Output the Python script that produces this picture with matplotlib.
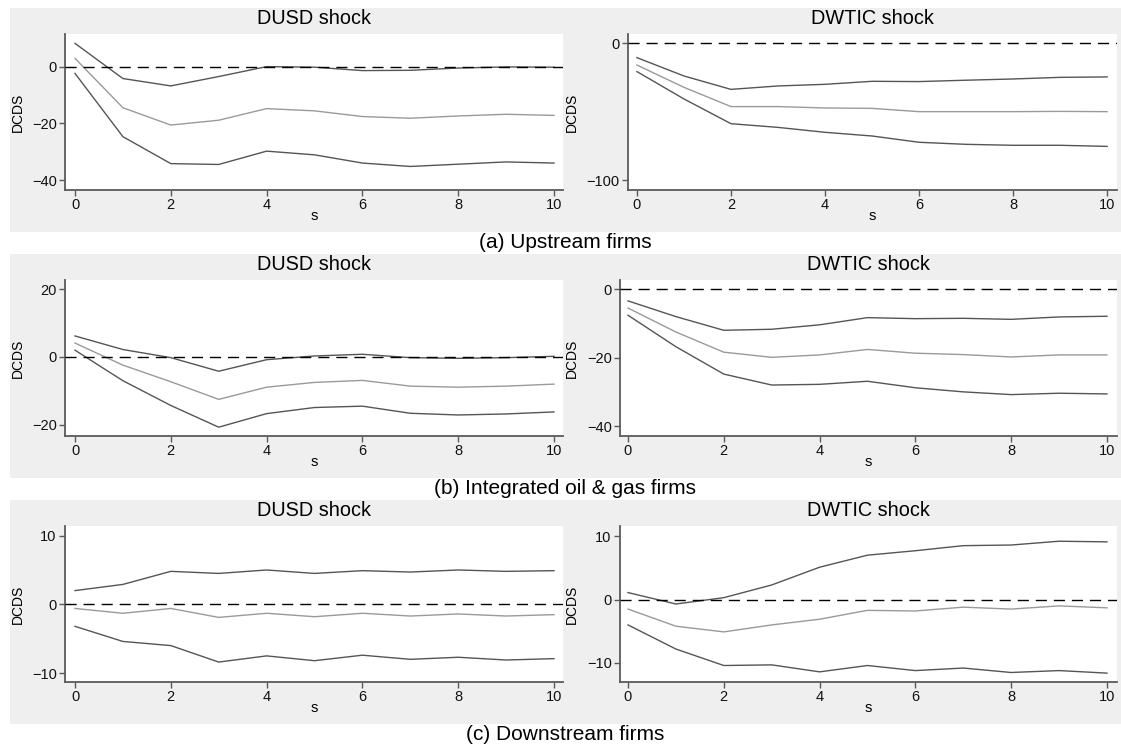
import matplotlib
matplotlib.use("Agg")
import matplotlib.pyplot as plt
from matplotlib.patches import Rectangle

plt.rcParams['font.family'] = ['Liberation Sans', 'DejaVu Sans']

W, H = 1121, 749

steps = list(range(11))

# Row (a) Upstream firms
up_usd_hi = [8.2, -4.2, -6.8, -3.5, 0.0, -0.2, -1.4, -1.3, -0.5, -0.1, -0.2]
up_usd_mid = [2.9, -14.5, -20.6, -18.9, -14.8, -15.6, -17.6, -18.2, -17.4, -16.8, -17.2]
up_usd_lo = [-2.4, -24.7, -34.2, -34.5, -29.8, -31.1, -34.0, -35.2, -34.4, -33.6, -34.0]
up_wti_hi = [-10.5, -23.9, -33.7, -31.2, -30.0, -27.8, -28.0, -27.0, -26.1, -24.9, -24.6]
up_wti_mid = [-15.9, -32.2, -46.3, -46.3, -47.3, -47.6, -50.0, -50.0, -50.0, -49.8, -50.0]
up_wti_lo = [-20.7, -40.7, -58.8, -61.5, -65.1, -67.8, -72.4, -73.9, -74.6, -74.6, -75.4]

# Row (b) Integrated oil & gas firms
int_usd_hi = [6.2, 2.2, -0.2, -4.2, -0.8, 0.3, 0.8, -0.2, -0.4, -0.2, 0.2]
int_usd_mid = [4.1, -2.4, -7.3, -12.5, -8.9, -7.5, -6.9, -8.6, -8.9, -8.6, -8.0]
int_usd_lo = [2.0, -7.0, -14.3, -20.7, -16.7, -14.9, -14.5, -16.6, -17.1, -16.8, -16.2]
int_wti_hi = [-3.4, -8.0, -12.0, -11.7, -10.4, -8.3, -8.6, -8.5, -8.8, -8.1, -7.9]
int_wti_mid = [-5.5, -12.5, -18.4, -19.9, -19.2, -17.6, -18.7, -19.1, -19.8, -19.2, -19.2]
int_wti_lo = [-7.6, -16.8, -24.8, -28.0, -27.8, -26.9, -28.8, -30.0, -30.8, -30.4, -30.6]

# Row (c) Downstream firms
dn_usd_hi = [2.0, 2.9, 4.8, 4.5, 5.0, 4.5, 4.9, 4.7, 5.0, 4.8, 4.9]
dn_usd_mid = [-0.6, -1.3, -0.6, -1.9, -1.3, -1.8, -1.3, -1.7, -1.4, -1.7, -1.5]
dn_usd_lo = [-3.2, -5.4, -6.0, -8.4, -7.5, -8.2, -7.4, -8.0, -7.7, -8.1, -7.9]
dn_wti_hi = [1.1, -0.7, 0.3, 2.3, 5.1, 7.0, 7.7, 8.5, 8.6, 9.2, 9.1]
dn_wti_mid = [-1.5, -4.2, -5.1, -4.0, -3.1, -1.7, -1.8, -1.2, -1.5, -1.0, -1.3]
dn_wti_lo = [-4.0, -7.8, -10.4, -10.3, -11.4, -10.4, -11.2, -10.8, -11.5, -11.2, -11.6]

titles = ["DUSD shock", "DWTIC shock"]
captions = ["(a) Upstream firms", "(b) Integrated oil & gas firms", "(c) Downstream firms"]
x_ticks = [0, 2, 4, 6, 8, 10]

panels = [
    [(up_usd_hi, up_usd_mid, up_usd_lo), (up_wti_hi, up_wti_mid, up_wti_lo)],
    [(int_usd_hi, int_usd_mid, int_usd_lo), (int_wti_hi, int_wti_mid, int_wti_lo)],
    [(dn_usd_hi, dn_usd_mid, dn_usd_lo), (dn_wti_hi, dn_wti_mid, dn_wti_lo)],
]
yticks = [
    [[-40, -20, 0], [-100, 0]],
    [[-20, 0, 20], [-40, -20, 0]],
    [[-10, 0, 10], [-10, 0, 10]],
]
ylims = [
    [(-43.5, 11.5), (-107.3, 6.8)],
    [(-23.3, 22.7), (-42.9, 2.7)],
    [(-11.3, 11.4), (-13.0, 11.6)],
]

# layout in pixels
gray_rows = [(8, 232), (254, 478), (500, 724)]
axes_rows = [(34, 190), (280, 436), (526, 682)]
left_x = [(65, 563, (-0.209, 10.188))] * 3
right_x = [(628, 1117, (-0.19, 10.21)), (620, 1117, (-0.167, 10.21)), (620, 1117, (-0.167, 10.21))]

bg = '#efefef'
dark = '#555555'
light = '#9a9a9a'
spine_c = '#5a5a5a'

fig = plt.figure(figsize=(W / 100, H / 100), dpi=100)
fig.patch.set_facecolor('white')

def fx(x):
    return x / W

def fy(y):
    return 1 - y / H

for r in range(3):
    g0, g1 = gray_rows[r]
    fig.patches.append(Rectangle((fx(10), fy(g1)), fx(1121) - fx(10), (g1 - g0) / H,
                                 transform=fig.transFigure, facecolor=bg,
                                 edgecolor='none', zorder=-10))
    a0, a1 = axes_rows[r]
    for c in range(2):
        x0, x1, xl = (left_x[r] if c == 0 else right_x[r])
        ax = fig.add_axes([fx(x0), fy(a1), (x1 - x0) / W, (a1 - a0) / H])
        ax.set_facecolor('white')
        hi, mid, lo = panels[r][c]
        ax.plot(steps, hi, color=dark, lw=1.0)
        ax.plot(steps, mid, color=light, lw=1.0)
        ax.plot(steps, lo, color=dark, lw=1.0)
        ax.axhline(0, color='black', lw=1.0, ls=(0, (8, 5)), zorder=5)
        ax.set_xlim(*xl)
        ax.set_ylim(*ylims[r][c])
        ax.set_xticks(x_ticks)
        ax.set_yticks(yticks[r][c])
        for s in ['top', 'right']:
            ax.spines[s].set_visible(False)
        for s in ['left', 'bottom']:
            ax.spines[s].set_color(spine_c)
            ax.spines[s].set_linewidth(1.3)
        ax.tick_params(direction='out', length=4, width=1.0, color=spine_c,
                       labelsize=10.5, pad=2, labelcolor='#111111')
        cx = (x0 + x1) / 2
        fig.text(fx(cx), fy(g0 + 10), titles[c], ha='center', va='center', fontsize=14.3)
        fig.text(fx(cx), fy(a1 + 30), 's', ha='center', va='baseline', fontsize=10.5)
        lx = 18 if c == 0 else 572
        fig.text(fx(lx), fy((a0 + a1) / 2), 'DCDS', rotation=90, ha='center', va='center', fontsize=10)
    fig.text(fx(565), fy(g1 + 11), captions[r], ha='center', va='center', fontsize=15)

fig.savefig('out.png', dpi=100)
